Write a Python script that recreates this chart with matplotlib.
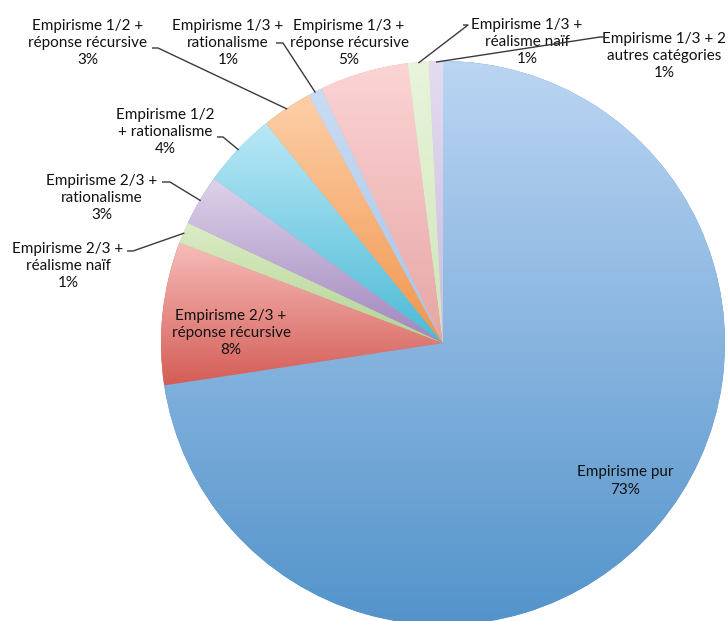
import numpy as np
from matplotlib import pyplot as plt
from matplotlib.colors import LinearSegmentedColormap

# slices, clockwise from 12 o'clock
labels = ["Empirisme pur",
          "Empirisme 2/3 +\nréponse récursive",
          "Empirisme 2/3 +\nréalisme naïf",
          "Empirisme 2/3 +\nrationalisme",
          "Empirisme 1/2\n+ rationalisme",
          "Empirisme 1/2 +\nréponse récursive",
          "Empirisme 1/3 +\nrationalisme",
          "Empirisme 1/3 +\nréponse récursive",
          "Empirisme 1/3 +\nréalisme naïf",
          "Empirisme 1/3 + 2\nautres catégories"]
values = [72.6, 8.2, 1.2, 2.9, 4.3, 2.9, 0.8, 5.1, 1.2, 0.8]
pct_labels = ["73%", "8%", "1%", "3%", "4%", "3%", "1%", "5%", "1%", "1%"]

# gradient colours (top, bottom) per slice
tops = ["#bbd5f3", "#f7bdba", "#dcecc6", "#ddd2ea", "#b9e8f7",
        "#fdcfa8", "#cadcf3", "#fcd4d4", "#e9f4dc", "#e4dcf0"]
bottoms = ["#5293ca", "#d45d56", "#b2d393", "#a086bd", "#4cbad5",
           "#f1954c", "#a6c3e8", "#e6a5a5", "#cfe5b5", "#c9bbe0"]

W, H = 728, 621
CX, CY, R = 443, 343, 282   # pixel position of the pie, y from the top

fig = plt.figure(figsize=(W / 100, H / 100), dpi=100)
ax = fig.add_axes([0, 0, 1, 1])

wedges, _ = ax.pie(values, startangle=90, counterclock=False,
                   center=(CX, H - CY), radius=R,
                   colors=bottoms, wedgeprops=dict(linewidth=0))

# vertical gradient in every wedge, light on top, darker at the bottom
grad = np.linspace(0, 1, 256).reshape(-1, 1)
for w, top, bot in zip(wedges, tops, bottoms):
    v = w.get_path().vertices
    x0, y0 = v.min(axis=0)
    x1, y1 = v.max(axis=0)
    cmap = LinearSegmentedColormap.from_list("g", [bot, top])
    im = ax.imshow(grad, cmap=cmap, origin="lower", aspect="auto",
                   extent=(x0, x1, y0, y1), zorder=w.get_zorder() + 0.1,
                   interpolation="bilinear")
    im.set_clip_path(w)

font = dict(family=["Lato", "DejaVu Sans"], fontsize=11, color="#111111",
            ha="center", va="center", linespacing=1.3, zorder=5)

# text centre (px from top-left) and leader start for each label
text_pos = [(625, 481), (231, 333), (68, 266), (102, 198), (165, 132),
            (88, 43), (228, 43), (349, 43), (527, 42), (664, 56)]
leader = [None, None,
          (127, 251, 133), (162, 182, 170), (217, 137, 223),
          (152, 48, 158), (276, 43, 283), None,
          (463, 25, 468), (605, 37, 600)]

for i, (w, lab, pct) in enumerate(zip(wedges, labels, pct_labels)):
    tx, ty = text_pos[i]
    ax.text(tx, H - ty, lab + "\n" + pct, **font)
    if leader[i] is None:
        continue
    sx, sy, kx = leader[i]
    mid = np.deg2rad((w.theta1 + w.theta2) / 2)
    ex = CX + (R - 1) * np.cos(mid)
    ey = (H - CY) + (R - 1) * np.sin(mid)
    ax.plot([sx, kx, ex], [H - sy, H - sy, ey], color="#3a3a3a",
            lw=1.0, zorder=6, solid_capstyle="butt")

ax.set_xlim(0, W)
ax.set_ylim(0, H)
ax.set_axis_off()

fig.savefig("out.png", dpi=100)
